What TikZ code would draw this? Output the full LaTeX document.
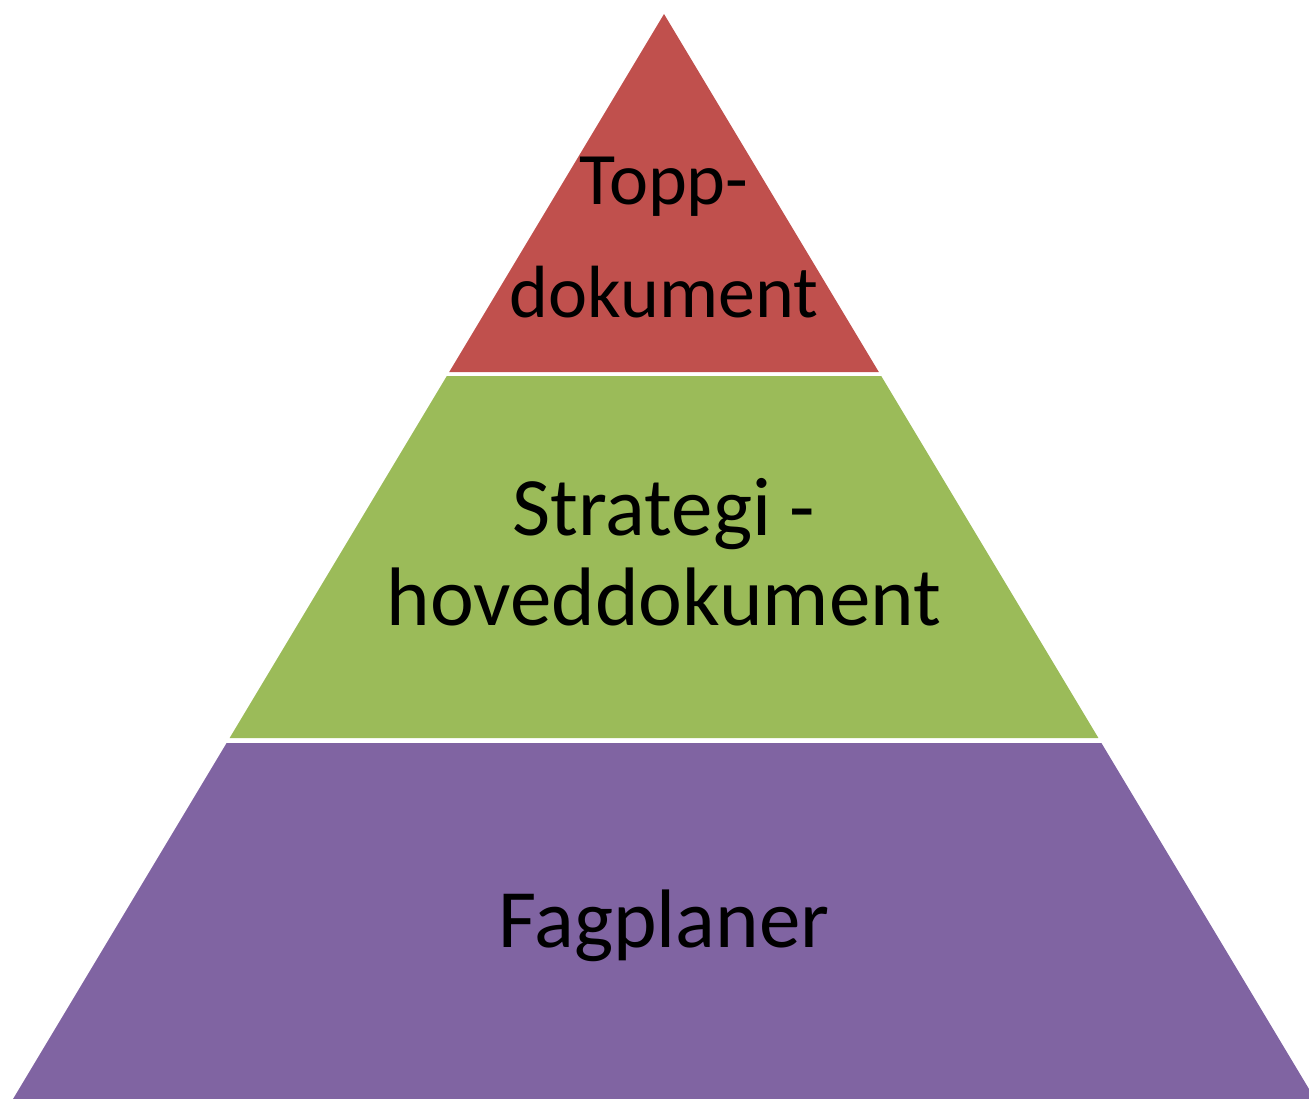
\documentclass[tikz,border=0pt]{standalone}
\usepackage{fontspec}
\setmainfont{Carlito}
\definecolor{toppred}{HTML}{C0504D}
\definecolor{stratgreen}{HTML}{9BBB59}
\definecolor{fagpurple}{HTML}{8064A2}

\tikzset{%
  % Specifications for style of tiers and texts:
         tier/.style = {draw = none},
     tiertext/.style = {anchor=base, inner sep=0pt, text=black},
    smalltext/.style = {tiertext, font=\fontsize{74}{88}\selectfont},
      bigtext/.style = {tiertext, font=\fontsize{83}{98}\selectfont},
}

\begin{document}
\begin{tikzpicture}[x=1pt, y=-1pt]
    \useasboundingbox (0,0) rectangle (1309,1099);

    % Draw tiers
    \fill[tier, toppred]    (664,14) -- (878.8,372) -- (449.2,372) -- cycle;
    \fill[tier, stratgreen] (446.8,376) -- (881.2,376) -- (1098.4,738) -- (229.6,738) -- cycle;
    \fill[tier, fagpurple]  (226.6,743) -- (1101.4,743) -- (1309,1089) -- (1309,1099) -- (13,1099) -- cycle;

    % Draw texts
    \node (topp)      [smalltext] at (664,205) {Topp-};
    \node (toppdok)   [smalltext] at (664,318) {dokument};
    \node (strategi)  [bigtext]   at (664,535) {Strategi -};
    \node (hoveddok)  [bigtext]   at (664,625) {hoveddokument};
    \node (fagplaner) [bigtext]   at (664,947) {Fagplaner};

\end{tikzpicture}
\end{document}
